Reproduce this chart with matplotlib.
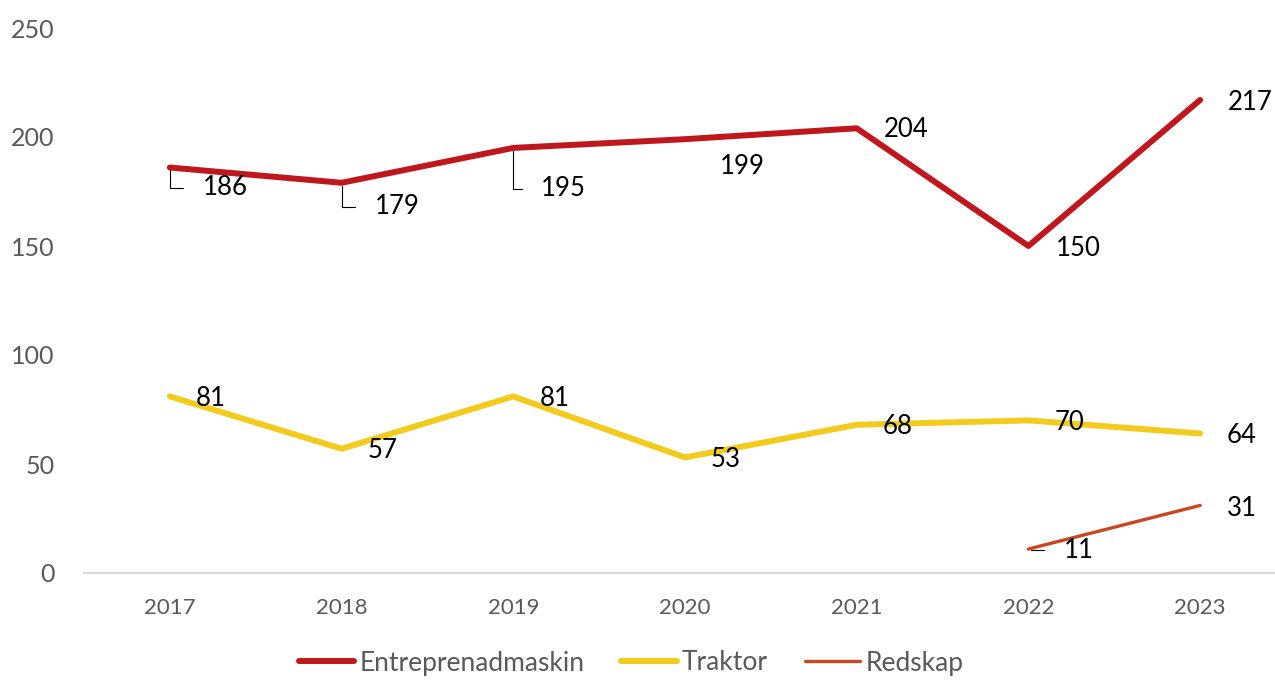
import numpy as np
import matplotlib.pyplot as plt

plt.rcParams['font.family'] = ['Lato', 'DejaVu Sans']

# data
years = ['2017', '2018', '2019', '2020', '2021', '2022', '2023']
entreprenad = [186, 179, 195, 199, 204, 150, 217]
traktor = [81, 57, 81, 53, 68, 70, 64]
redskap = [np.nan, np.nan, np.nan, np.nan, np.nan, 11, 31]

# label offsets in pixels (dx, dy, leader line)
off_entr = [(33, -20, True), (33, -24, True), (28, -41, True), (35, -27, False),
            (27, -1, False), (27, -2, False), (28, -3, False)]
off_trak = [(26, -2, False)] * 7
off_red = [None, None, None, None, None, (35, -1, True), (27, -3, False)]

fig = plt.figure(figsize=(12.75, 6.81), dpi=100)
ax = fig.add_axes([84 / 1275, 108 / 681, 1202 / 1275, 545 / 681])

x = np.arange(len(years))
ax.plot(x, entreprenad, color='#C0171C', lw=4.3, solid_capstyle='round', label='Entreprenadmaskin')
ax.plot(x, traktor, color='#F2CB1D', lw=4.3, solid_capstyle='round', label='Traktor')
ax.plot(x, redskap, color='#C9471F', lw=2.4, solid_capstyle='round', label='Redskap')


def add_labels(vals, offs):
    for i, v in enumerate(vals):
        if offs[i] is None or np.isnan(v):
            continue
        dx, dy, leader = offs[i]
        kw = {}
        if leader:
            kw['arrowprops'] = dict(arrowstyle='-', color='black', lw=0.8,
                                    connectionstyle='angle,angleA=0,angleB=90,rad=0',
                                    relpos=(0, 0.5), shrinkA=12, shrinkB=2)
        ax.annotate(str(int(v)), xy=(i, v), xytext=(dx, dy), textcoords='offset pixels',
                    ha='left', va='center', fontsize=18.5, color='black', **kw)


add_labels(entreprenad, off_entr)
add_labels(traktor, off_trak)
add_labels(redskap, off_red)

ax.set_xlim(-0.5, 6.5)
ax.set_ylim(0, 250)
ax.set_yticks([0, 50, 100, 150, 200, 250])
ax.set_xticks(x)
ax.set_xticklabels(years)
ax.tick_params(axis='y', length=0, labelsize=18, labelcolor='#595959', pad=21)
ax.tick_params(axis='x', length=0, labelsize=16, labelcolor='#595959', pad=18)
for s in ['top', 'right', 'left']:
    ax.spines[s].set_visible(False)
ax.spines['bottom'].set_color('#D9D9D9')
ax.spines['bottom'].set_linewidth(1.5)

# legend at the bottom edge
leg = fig.legend(loc='center', bbox_to_anchor=(0.495, 18 / 681), ncol=3, frameon=False,
                 fontsize=19, handlelength=2.1, handletextpad=0.2, columnspacing=1.4,
                 borderpad=0.1)
for t in leg.get_texts():
    t.set_color('#595959')

fig.savefig('out.png', dpi=100)
